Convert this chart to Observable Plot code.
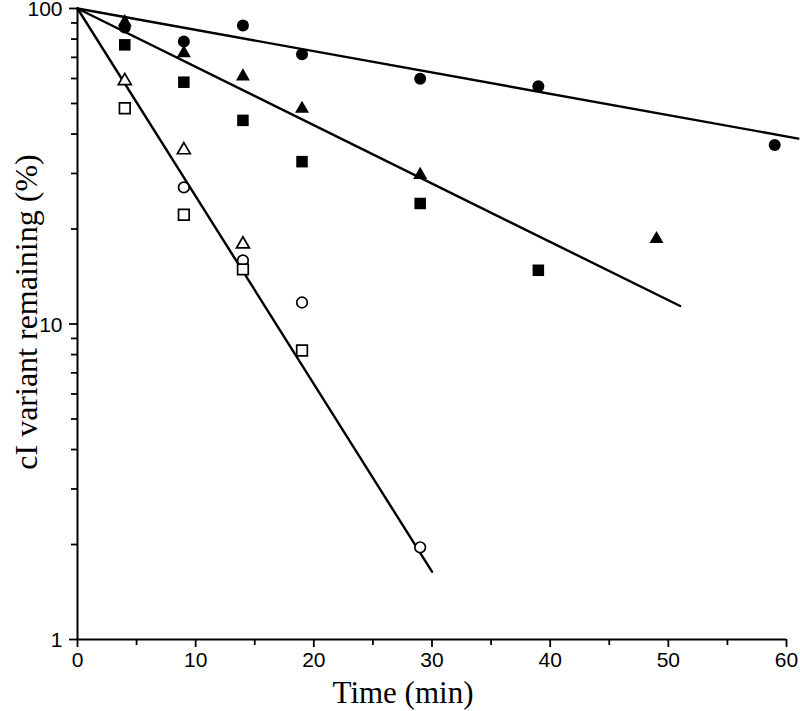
<!DOCTYPE html>
<html>
<head>
<meta charset="utf-8">
<script src="https://cdn.jsdelivr.net/npm/d3@7"></script>
<script src="https://cdn.jsdelivr.net/npm/@observablehq/plot@0.6"></script>
<style>
  html, body { margin: 0; padding: 0; background: #fff; }
  #chart svg { display: block; }
</style>
</head>
<body>
<div id="chart"></div>
<script>
// ---- data ----
// filled circles
const fcT = [4, 9, 14, 19, 29, 39, 59];
const fcV = [87, 78.6, 88.3, 71.6, 59.9, 56.7, 36.9];
// filled triangles
const ftT = [4, 9, 14, 19, 29, 49];
const ftV = [90.5, 72.2, 60.9, 48.1, 29.7, 18.6];
// filled squares
const fsT = [4, 9, 14, 19, 29, 39];
const fsV = [76.7, 58.4, 44.2, 32.7, 24.1, 14.8];
// open triangles
const otT = [4, 9, 14];
const otV = [59.0, 35.6, 17.9];
// open circles
const ocT = [9, 14, 19, 29];
const ocV = [27.1, 15.9, 11.7, 1.96];
// open squares
const osT = [4, 9, 14, 19];
const osV = [48.3, 22.2, 14.9, 8.24];
// fitted lines (start, end)
const line1T = [0, 61];  const line1V = [100, 38.7];
const line2T = [0, 51];  const line2V = [100, 11.4];
const line3T = [0, 30];  const line3V = [100, 1.64];
// ticks
const xMajor = [0, 10, 20, 30, 40, 50, 60];
const xMinor = [5, 15, 25, 35, 45, 55];
const yMajor = [1, 10, 100];
const yMinor = [2, 3, 4, 5, 6, 7, 8, 9, 20, 30, 40, 50, 60, 70, 80, 90];
const xTitle = "Time (min)";
const yTitle = "cI variant remaining (%)";

const pts = (T, V) => T.map((t, i) => ({t, v: V[i]}));

const W = 800, H = 711, mT = 8, mB = 72, mL = 77, mR = 14;
const frameW = W - mL - mR, frameH = H - mT - mB;
const majorLen = 8, minorLen = 6;

const serif = "'Liberation Serif', 'DejaVu Serif', serif";
const sans = "'Liberation Sans', 'DejaVu Sans', sans-serif";

const chart = Plot.plot({
  width: W,
  height: H,
  marginTop: mT,
  marginBottom: mB,
  marginLeft: mL,
  marginRight: mR,
  x: {domain: [0, 60], axis: null},
  y: {type: "log", domain: [1, 100], axis: null},
  marks: [
    // tick labels
    Plot.text(xMajor, {x: d => d, text: d => String(d), frameAnchor: "bottom", lineAnchor: "top", dy: 13, fontSize: 21, fontFamily: sans, fill: "black"}),
    Plot.text(yMajor, {y: d => d, text: d => String(d), frameAnchor: "left", textAnchor: "end", lineAnchor: "middle", dx: -15, dy: 1, fontSize: 21, fontFamily: sans, fill: "black"}),
    // axis titles
    Plot.text([xTitle], {text: d => d, frameAnchor: "bottom", textAnchor: "middle", lineAnchor: "middle", dx: -29, dy: 54, fontSize: 31, fontFamily: serif, fill: "black"}),
    Plot.text([yTitle], {text: d => d, frameAnchor: "left", textAnchor: "middle", lineAnchor: "middle", rotate: -90, dx: -51, dy: -12, fontSize: 32, fontFamily: serif, fill: "black"}),
    // fitted lines
    Plot.line(pts(line1T, line1V), {x: "t", y: "v", strokeWidth: 2.4}),
    Plot.line(pts(line2T, line2V), {x: "t", y: "v", strokeWidth: 2.4}),
    Plot.line(pts(line3T, line3V), {x: "t", y: "v", strokeWidth: 2.4}),
    // data points
    Plot.dot(pts(fcT, fcV), {x: "t", y: "v", symbol: "circle", r: 6, fill: "black", stroke: "none"}),
    Plot.dot(pts(ftT, ftV), {x: "t", y: "v", symbol: "triangle", r: 5.2, fill: "black", stroke: "none"}),
    Plot.dot(pts(fsT, fsV), {x: "t", y: "v", symbol: "square", r: 6.5, fill: "black", stroke: "none"}),
    Plot.dot(pts(otT, otV), {x: "t", y: "v", symbol: "triangle", r: 4.8, fill: "white", stroke: "black", strokeWidth: 1.7}),
    Plot.dot(pts(ocT, ocV), {x: "t", y: "v", symbol: "circle", r: 5.3, fill: "white", stroke: "black", strokeWidth: 1.7}),
    Plot.dot(pts(osT, osV), {x: "t", y: "v", symbol: "square", r: 6, fill: "white", stroke: "black", strokeWidth: 1.7}),
    // tick marks (outside the frame)
    Plot.tickX(xMinor, {x: d => d, insetTop: frameH - minorLen, dy: minorLen, strokeWidth: 1.8}),
    Plot.tickX(xMajor, {x: d => d, insetTop: frameH - majorLen, dy: majorLen, strokeWidth: 1.8}),
    Plot.tickY(yMinor, {y: d => d, insetRight: frameW - minorLen, dx: -minorLen, strokeWidth: 1.8}),
    Plot.tickY(yMajor, {y: d => d, insetRight: frameW - majorLen, dx: -majorLen, strokeWidth: 1.8}),
    // axis lines
    Plot.ruleX([0], {strokeWidth: 2}),
    Plot.ruleY([1], {strokeWidth: 2})
  ]
});
document.getElementById("chart").appendChild(chart);
</script>
</body>
</html>
